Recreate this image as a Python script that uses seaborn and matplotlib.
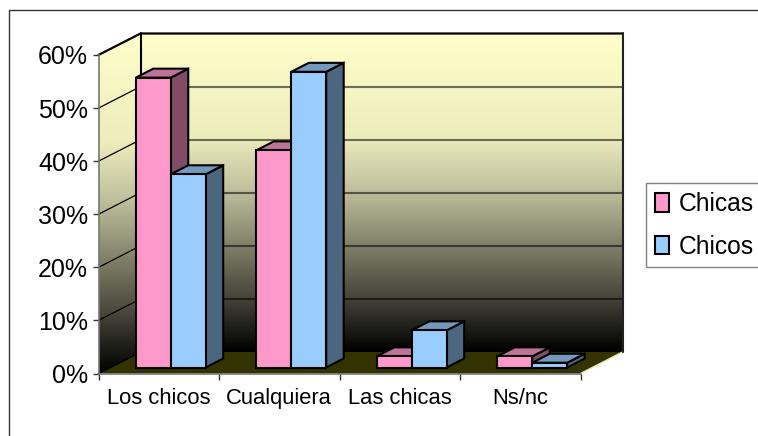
import matplotlib
matplotlib.use("Agg")
import matplotlib.pyplot as plt
import numpy as np
import pandas as pd
import seaborn as sns
from matplotlib.colors import LinearSegmentedColormap, to_rgb
from matplotlib.lines import Line2D
from matplotlib.patches import Polygon, Rectangle
from matplotlib.transforms import Affine2D

categories = ["Los chicos", "Cualquiera", "Las chicas", "Ns/nc"]
chicas = [54.6, 40.9, 2.1, 2.1]
chicos = [36.4, 55.7, 7.0, 0.9]
y_ticks = [0, 10, 20, 30, 40, 50, 60]
y_labels = ["0%", "10%", "20%", "30%", "40%", "50%", "60%"]

W, H = 758, 436
sns.set_theme(style="white")
plt.rcParams["font.family"] = ["Liberation Sans", "DejaVu Sans"]

fig = plt.figure(figsize=(W / 100, H / 100), dpi=100, facecolor="white")
# axes = front plane of the 3D box
left, right, top, bottom = 98.5, 580.5, 55, 373.5
ax = fig.add_axes([left / W, 1 - bottom / H, (right - left) / W, (bottom - top) / H])

px_x = 4 / (right - left)
px_y = 60 / (bottom - top)
wall_x, wall_y = 42 * px_x, 21.5 * px_y
shift_x, shift_y = 12 * px_x, 6 * px_y
depth_x, depth_y = 17.5 * px_x, 9 * px_y

data = pd.DataFrame({
    "Respuesta": categories * 2,
    "Grupo": ["Chicas"] * 4 + ["Chicos"] * 4,
    "Valor": chicas + chicos,
})
sns.barplot(
    data=data, x="Respuesta", y="Valor", hue="Grupo",
    palette=["#FF99CC", "#99CCFF"], width=0.58, gap=0, saturation=1,
    edgecolor="black", linewidth=1.5, ax=ax, legend=False,
)

x0, x1 = -0.5, 3.5

# walls with the yellow to black gradient, light for most of the upper half
cmap = LinearSegmentedColormap.from_list(
    "wall",
    [(0, "#FFFFCC"), (0.32, "#EDEDBC"), (0.5, "#BDBD9B"), (0.67, "#7F7F68"), (0.83, "#45453A"), (1, "#000000")],
)
gradient = np.linspace(0, 1, 256).reshape(-1, 1)
back_wall = [(x0 + wall_x, wall_y), (x0 + wall_x, 60 + wall_y), (x1 + wall_x, 60 + wall_y), (x1 + wall_x, wall_y)]
side_wall = [(x0, 0), (x0, 60), (x0 + wall_x, 60 + wall_y), (x0 + wall_x, wall_y)]
for outline, y_low in [(back_wall, wall_y), (side_wall, 0)]:
    image = ax.imshow(gradient, cmap=cmap, aspect="auto", zorder=0,
                      extent=[x0, x1 + wall_x, y_low, 60 + wall_y])
    image.set_clip_path(Polygon(outline, transform=ax.transData))
    image.set_clip_box(fig.bbox)
ax.set_xlim(x0, x1)
ax.set_ylim(0, 60)

floor = [(x0, 0), (x1, 0), (x1 + wall_x, wall_y), (x0 + wall_x, wall_y)]
ax.add_patch(Polygon(floor, facecolor="#333300", edgecolor="none", clip_on=False, zorder=1))
ax.plot([x1, x1 + wall_x], [0, wall_y], color="#E8E8B0", lw=1, clip_on=False, zorder=1)

# gridlines on both walls
for tick in y_ticks[1:-1]:
    ax.plot([x0 + wall_x, x1 + wall_x], [tick + wall_y] * 2, color="black", alpha=0.55,
            lw=1.5, clip_on=False, zorder=1)
    ax.plot([x0, x0 + wall_x], [tick, tick + wall_y], color="black", lw=0.9, clip_on=False, zorder=1)

# wall outlines
ax.plot([x0, x0 + wall_x, x1 + wall_x], [60, 60 + wall_y, 60 + wall_y],
        color="black", lw=1.6, clip_on=False, zorder=1.5)
ax.plot([x1 + wall_x, x1 + wall_x], [60 + wall_y, wall_y], color="#222222", lw=1.5, clip_on=False, zorder=1.5)
ax.plot([x0 + wall_x, x0 + wall_x], [60 + wall_y, wall_y], color="black", lw=1.5, clip_on=False, zorder=1.5)
ax.plot([x0, x0 + wall_x], [0, wall_y], color="black", lw=1.2, clip_on=False, zorder=1.5)

# fronts come from seaborn, side and top faces are worked out from each bar
shift = Affine2D().translate(shift_x, shift_y) + ax.transData
bars = []
for container in ax.containers:
    for i, patch in enumerate(container):
        bars.append((i, patch))
bars.sort(key=lambda item: (item[0], item[1].get_x()))


def shade(color, factor):
    return tuple(c * factor for c in to_rgb(color))


for order, (i, patch) in enumerate(bars):
    z = 3 + order
    xa, w, h = patch.get_x(), patch.get_width(), patch.get_height()
    color = patch.get_facecolor()[:3]
    patch.set_transform(shift)
    patch.set_clip_on(False)
    patch.set_zorder(z + 0.5)
    side = [(xa + w, 0), (xa + w + depth_x, depth_y), (xa + w + depth_x, h + depth_y), (xa + w, h)]
    roof = [(xa, h), (xa + depth_x, h + depth_y), (xa + w + depth_x, h + depth_y), (xa + w, h)]
    ax.add_patch(Polygon(side, facecolor=shade(color, 0.5), edgecolor="black", lw=1.5,
                         transform=shift, clip_on=False, zorder=z))
    ax.add_patch(Polygon(roof, facecolor=shade(color, 0.75), edgecolor="black", lw=1.5,
                         transform=shift, clip_on=False, zorder=z))

# axes, ticks
sns.despine(ax=ax, top=True, right=True)
for name in ["left", "bottom"]:
    ax.spines[name].set_color("#777777")
    ax.spines[name].set_linewidth(1.2)
    ax.spines[name].set_zorder(2)

ax.set_xlabel("")
ax.set_ylabel("")
ax.set_yticks(y_ticks)
ax.set_yticklabels(y_labels, fontsize=18, color="black")
ax.set_xticks(range(4))
ax.set_xticklabels(categories, fontsize=15.8, color="black")
ax.set_xticks([-0.5, 0.5, 1.5, 2.5, 3.5], minor=True)
ax.tick_params(axis="x", which="major", length=0, pad=10.5)
ax.tick_params(axis="x", which="minor", length=4.5, width=1, color="#333333", bottom=True)
ax.tick_params(axis="y", which="major", length=4.5, width=1, color="#333333", left=True, pad=3)

# legend
handles = [Rectangle((0, 0), 1, 1, facecolor=c, edgecolor="black", lw=1.5) for c in ["#FF99CC", "#99CCFF"]]
legend = ax.legend(
    handles, ["Chicas", "Chicos"], loc="upper left",
    bbox_to_anchor=(646 / W, 1 - 183.5 / H), bbox_transform=fig.transFigure,
    fontsize=17.7, labelcolor="black", frameon=True, fancybox=False, framealpha=1, edgecolor="#808080",
    handlelength=0.58, handleheight=0.8, handletextpad=0.38, labelspacing=0.74,
    borderpad=0.36, borderaxespad=0,
)
legend.get_frame().set_linewidth(1)
legend.set_zorder(20)

# chart area border
fig.add_artist(Line2D([8.5 / W, 8.5 / W, 1], [0, 1 - 10.5 / H, 1 - 10.5 / H], color="#333333", lw=1))

fig.savefig("out.png", dpi=100)
